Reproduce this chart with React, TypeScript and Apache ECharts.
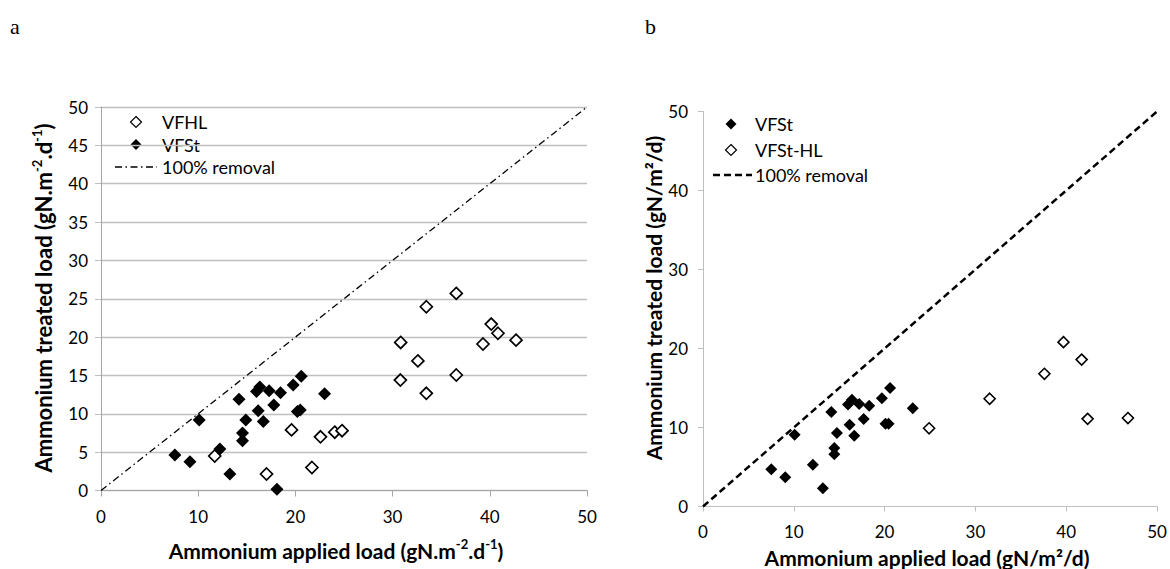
import React, { useEffect, useRef } from "react";
import * as echarts from "echarts";

// Panel a
const aVfhlX = [36.55, 33.47, 40.15, 40.84, 42.7, 39.3, 30.83, 32.6, 30.8, 36.55, 33.47, 11.7, 17.03, 19.6, 21.7, 22.58, 24.05, 24.8];
const aVfhlY = [25.7, 23.96, 21.7, 20.5, 19.6, 19.1, 19.3, 16.9, 14.4, 15.06, 12.67, 4.5, 2.15, 7.9, 3.0, 7.0, 7.6, 7.8];
const aVfstX = [7.6, 9.15, 10.1, 12.23, 13.26, 14.2, 14.56, 14.56, 14.9, 16.17, 16.0, 16.34, 16.7, 17.3, 17.78, 18.1, 18.47, 19.77, 20.2, 20.5, 20.6, 23.0];
const aVfstY = [4.63, 3.76, 9.2, 5.4, 2.15, 11.9, 7.5, 6.5, 9.2, 10.4, 12.9, 13.5, 9.0, 13.0, 11.15, 0.15, 12.75, 13.75, 10.3, 10.5, 14.9, 12.6];

// Panel b
const bVfstX = [7.52, 9.06, 10.09, 12.1, 13.2, 14.13, 14.46, 14.46, 14.75, 16.15, 15.97, 16.4, 16.66, 17.2, 17.7, 18.3, 19.7, 20.1, 20.44, 20.6, 23.1];
const bVfstY = [4.7, 3.7, 9.07, 5.27, 2.3, 11.95, 7.4, 6.6, 9.3, 10.35, 12.9, 13.5, 8.95, 12.97, 11.07, 12.75, 13.7, 10.47, 10.47, 15.0, 12.45];
const bHlX = [24.9, 31.57, 37.6, 39.7, 41.7, 42.36, 46.8];
const bHlY = [9.9, 13.64, 16.8, 20.8, 18.6, 11.1, 11.2];

const removalLine = [[0, 0], [50, 50]];

const legendA = ["VFHL", "VFSt", "100% removal"];
const legendB = ["VFSt", "VFSt-HL", "100% removal"];

const FONT = "Lato, 'Open Sans', sans-serif";

const zip = (xs: number[], ys: number[]) => xs.map((x, i) => [x, ys[i]]);

const diamond = (cx: number, cy: number, h: number, filled: boolean) => ({
  type: "polygon",
  shape: { points: [[cx, cy - h], [cx + h, cy], [cx, cy + h], [cx - h, cy]] },
  style: filled ? { fill: "#000" } : { fill: "#fff", stroke: "#000", lineWidth: 1.2 },
});
const legendText = (x: number, y: number, text: string) => ({
  type: "text", x, y,
  style: { text, font: `18px ${FONT}`, fill: "#000", verticalAlign: "middle" },
});

export default function App() {
  const ref = useRef<HTMLDivElement>(null);
  useEffect(() => {
    document.body.style.margin = "0";
    const chart = echarts.init(ref.current!, null, { renderer: "svg" });
    const axisLabel = { fontFamily: FONT, fontSize: 17, color: "#000" };
    const richA = (size: number) => ({
      b: { fontFamily: FONT, fontSize: size, fontWeight: "bold", color: "#000", lineHeight: 26 },
      s: { fontFamily: FONT, fontSize: 13, fontWeight: "bold", color: "#000", lineHeight: 14, verticalAlign: "top" },
    });
    const titleA1 = "{b|Ammonium treated load (gN.m}{s|-2}{b|.d}{s|-1}{b|)}";
    const titleA2 = "{b|Ammonium applied load (gN.m}{s|-2}{b|.d}{s|-1}{b|)}";
    const option: any = {
      animation: false,
      color: ["#000"],
      grid: [
        { left: 101, top: 107, width: 486, height: 383.5 },
        { left: 703, top: 111.5, width: 454, height: 395 },
      ],
      xAxis: [
        {
          gridIndex: 0, type: "value", min: 0, max: 50, interval: 10,
          axisLine: { show: true, lineStyle: { color: "#A6A6A6" } },
          axisTick: { show: true, length: 6, lineStyle: { color: "#A6A6A6" } },
          splitLine: { show: false },
          axisLabel: { ...axisLabel, margin: 17 },
        },
        {
          gridIndex: 1, type: "value", min: 0, max: 50, interval: 10,
          axisLine: { show: true, lineStyle: { color: "#BFBFBF" } },
          axisTick: { show: true, length: 5, lineStyle: { color: "#BFBFBF" } },
          splitLine: { show: false },
          axisLabel: { ...axisLabel, margin: 16 },
        },
      ],
      yAxis: [
        {
          gridIndex: 0, type: "value", min: 0, max: 50, interval: 5,
          axisLine: { show: true, lineStyle: { color: "#A6A6A6" } },
          axisTick: { show: true, length: 6, lineStyle: { color: "#BFBFBF" } },
          splitLine: { show: true, lineStyle: { color: "#BFBFBF", width: 1.3 } },
          axisLabel: { ...axisLabel, margin: 13 },
        },
        {
          gridIndex: 1, type: "value", min: 0, max: 50, interval: 10,
          axisLine: { show: true, lineStyle: { color: "#BFBFBF" } },
          axisTick: { show: true, length: 5, lineStyle: { color: "#BFBFBF" } },
          splitLine: { show: false },
          axisLabel: { ...axisLabel, margin: 15 },
        },
      ],
      series: [
        {
          name: "100% removal", type: "line", xAxisIndex: 0, yAxisIndex: 0, data: removalLine,
          symbol: "none", silent: true,
          lineStyle: { color: "#000", width: 1.3, type: [7, 3.5, 1.5, 3.5] }, z: 1,
        },
        {
          name: "VFHL", type: "scatter", xAxisIndex: 0, yAxisIndex: 0, data: zip(aVfhlX, aVfhlY),
          symbol: "diamond", symbolSize: 12,
          itemStyle: { color: "#fff", borderColor: "#000", borderWidth: 1.7, opacity: 1 }, z: 3,
        },
        {
          name: "VFSt", type: "scatter", xAxisIndex: 0, yAxisIndex: 0, data: zip(aVfstX, aVfstY),
          symbol: "diamond", symbolSize: 13,
          itemStyle: { color: "#000", opacity: 1 }, z: 4,
        },
        {
          name: "100% removal (b)", type: "line", xAxisIndex: 1, yAxisIndex: 1, data: removalLine,
          symbol: "none", silent: true,
          lineStyle: { color: "#000", width: 2.5, type: [7, 4] }, z: 1,
        },
        {
          name: "VFSt (b)", type: "scatter", xAxisIndex: 1, yAxisIndex: 1, data: zip(bVfstX, bVfstY),
          symbol: "diamond", symbolSize: 12,
          itemStyle: { color: "#000", opacity: 1 }, z: 4,
        },
        {
          name: "VFSt-HL", type: "scatter", xAxisIndex: 1, yAxisIndex: 1, data: zip(bHlX, bHlY),
          symbol: "diamond", symbolSize: 11,
          itemStyle: { color: "#fff", borderColor: "#000", borderWidth: 1.6, opacity: 1 }, z: 3,
        },
      ],
      graphic: [
        { type: "text", x: 10, y: 26, style: { text: "a", font: "22px 'Liberation Serif', serif", fill: "#000", verticalAlign: "middle" } },
        { type: "text", x: 645, y: 26, style: { text: "b", font: "22px 'Liberation Serif', serif", fill: "#000", verticalAlign: "middle" } },
        { type: "text", x: 43, y: 298, rotation: Math.PI / 2, style: { text: titleA1, rich: richA(22), align: "center", verticalAlign: "middle" } },
        { type: "text", x: 336, y: 550, style: { text: titleA2, rich: richA(21), align: "center", verticalAlign: "middle" } },
        { type: "text", x: 653, y: 298, rotation: Math.PI / 2, style: { text: "Ammonium treated load (gN/m²/d)", font: `bold 21px ${FONT}`, fill: "#000", align: "center", verticalAlign: "middle" } },
        { type: "text", x: 927, y: 557, style: { text: "Ammonium applied load (gN/m²/d)", font: `bold 21px ${FONT}`, fill: "#000", align: "center", verticalAlign: "middle" } },
        // legend a
        diamond(136, 122, 5.5, false),
        legendText(162, 122, legendA[0]),
        diamond(136, 144.5, 5.5, true),
        legendText(162, 144.5, legendA[1]),
        { type: "line", shape: { x1: 115, y1: 167, x2: 157, y2: 167 }, style: { stroke: "#000", lineWidth: 1.3, lineDash: [7, 3.5, 1.5, 3.5] } },
        legendText(162, 167, legendA[2]),
        // legend b
        diamond(731, 124, 5.5, true),
        legendText(755, 124, legendB[0]),
        diamond(731, 150, 5.5, false),
        legendText(755, 150, legendB[1]),
        { type: "line", shape: { x1: 713, y1: 175, x2: 752, y2: 175 }, style: { stroke: "#000", lineWidth: 2.5, lineDash: [7, 4] } },
        legendText(755, 175, legendB[2]),
      ],
    };
    chart.setOption(option);
    return () => chart.dispose();
  }, []);
  return <div ref={ref} style={{ width: 1170, height: 569 }} />;
}
